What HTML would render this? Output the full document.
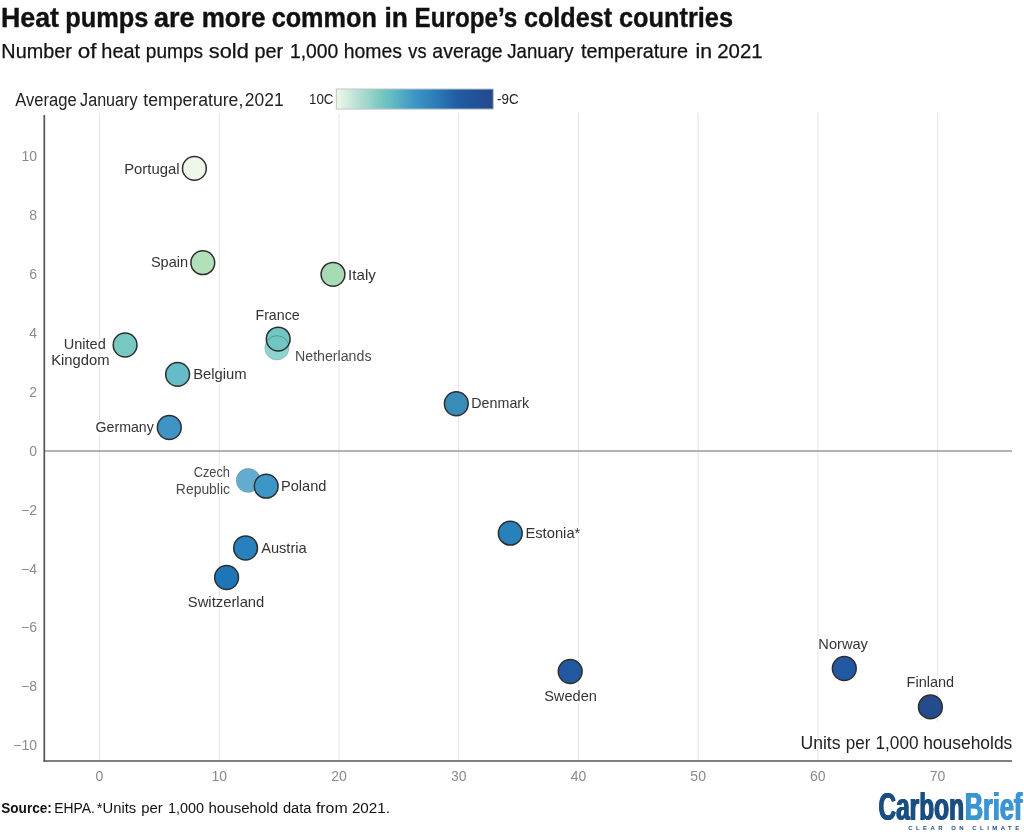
<!DOCTYPE html><html><head><meta charset="utf-8"><title>Heat pumps</title>
<style>html,body{margin:0;padding:0;background:#fff}body{width:1024px;height:835px;overflow:hidden}svg{display:block;will-change:transform}text{font-family:"Liberation Sans", sans-serif}.lab{font-size:15px;fill:#333;stroke:#fff;stroke-width:4px;stroke-linejoin:round;paint-order:stroke fill}.lab2{font-size:13.8px;fill:#4a4a4a;stroke:#fff;stroke-width:4px;stroke-linejoin:round;paint-order:stroke fill}.tick{font-size:14px;fill:#8a8a8a}.t1{font-size:28.5px;font-weight:bold;fill:#111;stroke:#111;stroke-width:0.4px}.t2{font-size:20.4px;fill:#111;stroke:#111;stroke-width:0.25px}.t3{font-size:17.6px;fill:#222}.t3b{font-size:17.5px;fill:#222}.t4{font-size:15.5px;fill:#111}</style></head><body>
<svg width="1024" height="835" viewBox="0 0 1024 835">
<defs><linearGradient id="g" x1="0" x2="1" y1="0" y2="0"><stop offset="0" stop-color="#eef9e5"/><stop offset="0.06" stop-color="#d7eee0"/><stop offset="0.14" stop-color="#b5dfd4"/><stop offset="0.215" stop-color="#96d4ca"/><stop offset="0.266" stop-color="#7ecbc1"/><stop offset="0.342" stop-color="#68bec3"/><stop offset="0.419" stop-color="#52aac4"/><stop offset="0.495" stop-color="#3c98c5"/><stop offset="0.571" stop-color="#3389be"/><stop offset="0.648" stop-color="#2b7ab6"/><stop offset="0.724" stop-color="#2468ab"/><stop offset="0.775" stop-color="#215ba2"/><stop offset="0.852" stop-color="#21559a"/><stop offset="0.928" stop-color="#224f93"/><stop offset="1" stop-color="#234a8b"/></linearGradient></defs>
<rect width="1024" height="835" fill="#fff"/>
<text id="t0" x="1.00" y="27.25" textLength="58.05" lengthAdjust="spacingAndGlyphs" class="t1">Heat</text>
<text id="t1" x="65.27" y="27.25" textLength="83.17" lengthAdjust="spacingAndGlyphs" class="t1">pumps</text>
<text id="t2" x="154.00" y="27.25" textLength="40.55" lengthAdjust="spacingAndGlyphs" class="t1">are</text>
<text id="t3" x="201.71" y="27.25" textLength="63.68" lengthAdjust="spacingAndGlyphs" class="t1">more</text>
<text id="t4" x="271.64" y="27.25" textLength="105.19" lengthAdjust="spacingAndGlyphs" class="t1">common</text>
<text id="t5" x="384.44" y="27.25" textLength="23.40" lengthAdjust="spacingAndGlyphs" class="t1">in</text>
<text id="t6" x="414.55" y="27.25" textLength="102.76" lengthAdjust="spacingAndGlyphs" class="t1">Europe’s</text>
<text id="t7" x="524.00" y="27.25" textLength="88.08" lengthAdjust="spacingAndGlyphs" class="t1">coldest</text>
<text id="t8" x="619.00" y="27.25" textLength="114.00" lengthAdjust="spacingAndGlyphs" class="t1">countries</text>
<text id="t9" x="1.35" y="57.50" textLength="70.46" lengthAdjust="spacingAndGlyphs" class="t2">Number</text>
<text id="t10" x="77.87" y="57.50" textLength="18.73" lengthAdjust="spacingAndGlyphs" class="t2">of</text>
<text id="t11" x="101.30" y="57.50" textLength="38.81" lengthAdjust="spacingAndGlyphs" class="t2">heat</text>
<text id="t12" x="145.86" y="57.50" textLength="57.14" lengthAdjust="spacingAndGlyphs" class="t2">pumps</text>
<text id="t13" x="208.89" y="57.50" textLength="39.95" lengthAdjust="spacingAndGlyphs" class="t2">sold</text>
<text id="t14" x="254.42" y="57.50" textLength="28.71" lengthAdjust="spacingAndGlyphs" class="t2">per</text>
<text id="t15" x="289.93" y="57.50" textLength="48.36" lengthAdjust="spacingAndGlyphs" class="t2">1,000</text>
<text id="t16" x="343.76" y="57.50" textLength="58.27" lengthAdjust="spacingAndGlyphs" class="t2">homes</text>
<text id="t17" x="408.33" y="57.50" textLength="18.10" lengthAdjust="spacingAndGlyphs" class="t2">vs</text>
<text id="t18" x="432.37" y="57.50" textLength="70.32" lengthAdjust="spacingAndGlyphs" class="t2">average</text>
<text id="t19" x="507.32" y="57.50" textLength="66.23" lengthAdjust="spacingAndGlyphs" class="t2">January</text>
<text id="t20" x="581.01" y="57.50" textLength="106.99" lengthAdjust="spacingAndGlyphs" class="t2">temperature</text>
<text id="t21" x="695.59" y="57.50" textLength="16.53" lengthAdjust="spacingAndGlyphs" class="t2">in</text>
<text id="t22" x="717.19" y="57.50" textLength="45.47" lengthAdjust="spacingAndGlyphs" class="t2">2021</text>
<text id="t23" x="15.17" y="105.75" textLength="61.45" lengthAdjust="spacingAndGlyphs" class="t3">Average</text>
<text id="t24" x="80.10" y="105.75" textLength="57.42" lengthAdjust="spacingAndGlyphs" class="t3">January</text>
<text id="t25" x="143.32" y="105.75" textLength="100.02" lengthAdjust="spacingAndGlyphs" class="t3">temperature,</text>
<text id="t26" x="244.80" y="105.75" textLength="38.81" lengthAdjust="spacingAndGlyphs" class="t3">2021</text>
<text id="t27" x="309.01" y="104.10" textLength="24.54" lengthAdjust="spacingAndGlyphs" style="font-size:14.5px;fill:#222;">10C</text>
<rect x="336.3" y="89" width="157" height="20.1" fill="url(#g)" stroke="#c4c4c4" stroke-width="1"/>
<text id="t28" x="497.06" y="104.10" textLength="21.61" lengthAdjust="spacingAndGlyphs" style="font-size:14.5px;fill:#222;">-9C</text>
<line x1="99.50" x2="99.50" y1="113" y2="760" stroke="#e4e4e4" stroke-width="1"/>
<line x1="219.23" x2="219.23" y1="113" y2="760" stroke="#e4e4e4" stroke-width="1"/>
<line x1="338.96" x2="338.96" y1="113" y2="760" stroke="#e4e4e4" stroke-width="1"/>
<line x1="458.69" x2="458.69" y1="113" y2="760" stroke="#e4e4e4" stroke-width="1"/>
<line x1="578.42" x2="578.42" y1="113" y2="760" stroke="#e4e4e4" stroke-width="1"/>
<line x1="698.15" x2="698.15" y1="113" y2="760" stroke="#e4e4e4" stroke-width="1"/>
<line x1="817.88" x2="817.88" y1="113" y2="760" stroke="#e4e4e4" stroke-width="1"/>
<line x1="937.61" x2="937.61" y1="113" y2="760" stroke="#e4e4e4" stroke-width="1"/>
<line x1="44" x2="1012" y1="451" y2="451" stroke="#999" stroke-width="1.4"/>
<line x1="44.3" x2="44.3" y1="115" y2="761.8" stroke="#555" stroke-width="1.7"/>
<line x1="43.5" x2="1012" y1="761" y2="761" stroke="#555" stroke-width="1.7"/>
<text class="tick" x="37" y="161.20" text-anchor="end">10</text>
<text class="tick" x="37" y="220.10" text-anchor="end">8</text>
<text class="tick" x="37" y="279.00" text-anchor="end">6</text>
<text class="tick" x="37" y="337.90" text-anchor="end">4</text>
<text class="tick" x="37" y="396.80" text-anchor="end">2</text>
<text class="tick" x="37" y="455.70" text-anchor="end">0</text>
<text class="tick" x="37" y="514.60" text-anchor="end">−2</text>
<text class="tick" x="37" y="573.50" text-anchor="end">−4</text>
<text class="tick" x="37" y="632.40" text-anchor="end">−6</text>
<text class="tick" x="37" y="691.30" text-anchor="end">−8</text>
<text class="tick" x="37" y="750.20" text-anchor="end">−10</text>
<text class="tick" x="99.50" y="781.3" text-anchor="middle">0</text>
<text class="tick" x="219.23" y="781.3" text-anchor="middle">10</text>
<text class="tick" x="338.96" y="781.3" text-anchor="middle">20</text>
<text class="tick" x="458.69" y="781.3" text-anchor="middle">30</text>
<text class="tick" x="578.42" y="781.3" text-anchor="middle">40</text>
<text class="tick" x="698.15" y="781.3" text-anchor="middle">50</text>
<text class="tick" x="817.88" y="781.3" text-anchor="middle">60</text>
<text class="tick" x="937.61" y="781.3" text-anchor="middle">70</text>
<rect x="936" y="722" width="4" height="38" fill="#fff"/>
<text id="t29" x="800.44" y="749.10" textLength="40.06" lengthAdjust="spacingAndGlyphs" class="t3b">Units</text>
<text id="t30" x="845.73" y="749.10" textLength="24.64" lengthAdjust="spacingAndGlyphs" class="t3b">per</text>
<text id="t31" x="875.49" y="749.10" textLength="43.09" lengthAdjust="spacingAndGlyphs" class="t3b">1,000</text>
<text id="t32" x="923.18" y="749.10" textLength="89.14" lengthAdjust="spacingAndGlyphs" class="t3b">households</text>
<circle cx="276.9" cy="348.0" r="12.1" fill="#8dd3cf" stroke="#6b5a5a" stroke-opacity="0.3" stroke-width="0.8"/>
<circle cx="248.3" cy="480.4" r="12.1" fill="#63acd0" stroke="#6b5a5a" stroke-opacity="0.3" stroke-width="0.8"/>
<circle cx="194.40" cy="168.40" r="11.9" fill="#edf8e9" stroke="#2e2e2e" stroke-width="1.5"/>
<circle cx="202.80" cy="262.70" r="11.9" fill="#b1e0b9" stroke="#2e2e2e" stroke-width="1.5"/>
<circle cx="333.00" cy="274.30" r="11.9" fill="#a7dbb5" stroke="#2e2e2e" stroke-width="1.5"/>
<circle cx="278.20" cy="339.05" r="11.9" fill="#70c7c2" stroke="#2e2e2e" stroke-width="1.5"/>
<circle cx="125.10" cy="345.00" r="11.9" fill="#76c8c2" stroke="#2e2e2e" stroke-width="1.5"/>
<circle cx="177.60" cy="374.40" r="11.9" fill="#66bcc6" stroke="#2e2e2e" stroke-width="1.5"/>
<circle cx="169.30" cy="427.50" r="11.9" fill="#3d94c5" stroke="#2e2e2e" stroke-width="1.5"/>
<circle cx="456.30" cy="403.75" r="11.9" fill="#398bb8" stroke="#2e2e2e" stroke-width="1.5"/>
<circle cx="266.20" cy="486.20" r="11.9" fill="#3c97c6" stroke="#2e2e2e" stroke-width="1.5"/>
<circle cx="245.60" cy="548.00" r="11.9" fill="#2681bd" stroke="#2e2e2e" stroke-width="1.5"/>
<circle cx="226.60" cy="577.50" r="11.9" fill="#1f76b6" stroke="#2e2e2e" stroke-width="1.5"/>
<circle cx="510.30" cy="533.20" r="11.9" fill="#2881ba" stroke="#2e2e2e" stroke-width="1.5"/>
<circle cx="570.20" cy="671.50" r="11.9" fill="#21589f" stroke="#2e2e2e" stroke-width="1.5"/>
<circle cx="844.30" cy="668.50" r="11.9" fill="#2159a2" stroke="#2e2e2e" stroke-width="1.5"/>
<circle cx="930.40" cy="706.90" r="11.9" fill="#244b8b" stroke="#2e2e2e" stroke-width="1.5"/>
<clipPath id="fc"><circle cx="278.2" cy="339.05" r="11.2"/></clipPath>
<circle cx="276.9" cy="348.0" r="12.3" fill="none" stroke="#2f5f5c" stroke-opacity="0.5" stroke-width="0.9" clip-path="url(#fc)"/>
<text id="t33" x="124.13" y="173.75" textLength="55.37" lengthAdjust="spacingAndGlyphs" class="lab">Portugal</text>
<text id="t34" x="150.91" y="267.25" textLength="37.22" lengthAdjust="spacingAndGlyphs" class="lab">Spain</text>
<text id="t35" x="348.14" y="279.50" textLength="27.73" lengthAdjust="spacingAndGlyphs" class="lab">Italy</text>
<text id="t36" x="255.47" y="320.30" textLength="44.14" lengthAdjust="spacingAndGlyphs" class="lab">France</text>
<text id="t37" x="63.74" y="349.20" textLength="42.05" lengthAdjust="spacingAndGlyphs" class="lab">United</text>
<text id="t38" x="51.15" y="364.80" textLength="58.42" lengthAdjust="spacingAndGlyphs" class="lab">Kingdom</text>
<text id="t39" x="193.16" y="379.20" textLength="53.52" lengthAdjust="spacingAndGlyphs" class="lab">Belgium</text>
<text id="t40" x="95.60" y="432.00" textLength="58.23" lengthAdjust="spacingAndGlyphs" class="lab">Germany</text>
<text id="t41" x="471.30" y="408.00" textLength="57.96" lengthAdjust="spacingAndGlyphs" class="lab">Denmark</text>
<text id="t42" x="281.01" y="491.10" textLength="45.42" lengthAdjust="spacingAndGlyphs" class="lab">Poland</text>
<text id="t43" x="261.13" y="552.50" textLength="45.59" lengthAdjust="spacingAndGlyphs" class="lab">Austria</text>
<text id="t44" x="187.78" y="606.70" textLength="76.59" lengthAdjust="spacingAndGlyphs" class="lab">Switzerland</text>
<text id="t45" x="525.41" y="538.00" textLength="54.92" lengthAdjust="spacingAndGlyphs" class="lab">Estonia*</text>
<text id="t46" x="544.14" y="700.80" textLength="52.75" lengthAdjust="spacingAndGlyphs" class="lab">Sweden</text>
<text id="t47" x="818.36" y="648.90" textLength="49.57" lengthAdjust="spacingAndGlyphs" class="lab">Norway</text>
<text id="t48" x="906.61" y="687.40" textLength="47.53" lengthAdjust="spacingAndGlyphs" class="lab">Finland</text>
<text id="t49" x="295.06" y="361.40" textLength="76.44" lengthAdjust="spacingAndGlyphs" class="lab2">Netherlands</text>
<text id="t50" x="193.65" y="477.30" textLength="36.35" lengthAdjust="spacingAndGlyphs" class="lab2">Czech</text>
<text id="t51" x="175.88" y="493.75" textLength="54.12" lengthAdjust="spacingAndGlyphs" class="lab2">Republic</text>
<text id="t52" x="1.21" y="812.50" textLength="50.69" lengthAdjust="spacingAndGlyphs" class="t4" style="font-weight:bold;">Source:</text>
<text id="t53" x="54.27" y="812.50" textLength="40.60" lengthAdjust="spacingAndGlyphs" class="t4">EHPA.</text>
<text id="t54" x="96.79" y="812.50" textLength="39.42" lengthAdjust="spacingAndGlyphs" class="t4">*Units</text>
<text id="t55" x="141.24" y="812.50" textLength="21.44" lengthAdjust="spacingAndGlyphs" class="t4">per</text>
<text id="t56" x="167.92" y="812.50" textLength="36.18" lengthAdjust="spacingAndGlyphs" class="t4">1,000</text>
<text id="t57" x="208.48" y="812.50" textLength="69.65" lengthAdjust="spacingAndGlyphs" class="t4">household</text>
<text id="t58" x="282.96" y="812.50" textLength="28.48" lengthAdjust="spacingAndGlyphs" class="t4">data</text>
<text id="t59" x="315.92" y="812.50" textLength="31.77" lengthAdjust="spacingAndGlyphs" class="t4">from</text>
<text id="t60" x="351.89" y="812.50" textLength="38.21" lengthAdjust="spacingAndGlyphs" class="t4">2021.</text>
<text id="t61" x="877.90" y="819.80" textLength="85.50" lengthAdjust="spacingAndGlyphs" style="font-size:38px;font-weight:bold;fill:#1b4e80;">Carbon</text>
<text id="t62" x="964.20" y="819.80" textLength="57.40" lengthAdjust="spacingAndGlyphs" style="font-size:38px;font-weight:bold;fill:#3b94d4;">Brief</text>
<text id="t63" x="878.50" y="819.80" textLength="85.50" lengthAdjust="spacingAndGlyphs" style="font-size:38px;font-weight:bold;fill:#1b4e80;">Carbon</text>
<text id="t64" x="964.80" y="819.80" textLength="57.40" lengthAdjust="spacingAndGlyphs" style="font-size:38px;font-weight:bold;fill:#3b94d4;">Brief</text>
<text id="t65" x="879.10" y="819.80" textLength="85.50" lengthAdjust="spacingAndGlyphs" style="font-size:38px;font-weight:bold;fill:#1b4e80;">Carbon</text>
<text id="t66" x="965.40" y="819.80" textLength="57.40" lengthAdjust="spacingAndGlyphs" style="font-size:38px;font-weight:bold;fill:#3b94d4;">Brief</text>
<text x="908.2" y="829.8" textLength="111" lengthAdjust="spacing" style="font-size:6px;font-weight:bold;fill:#1b4e80">CLEAR ON CLIMATE</text>
</svg></body></html>
